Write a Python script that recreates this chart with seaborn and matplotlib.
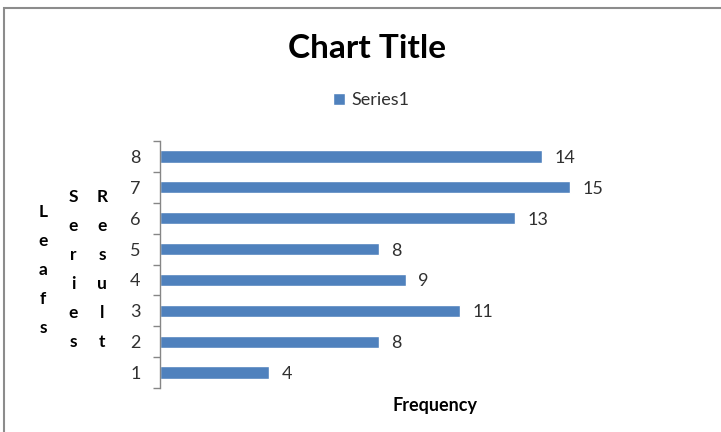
import matplotlib
matplotlib.use("Agg")
import matplotlib.pyplot as plt
import seaborn as sns
import pandas as pd
from matplotlib.patches import Rectangle

categories = ["1", "2", "3", "4", "5", "6", "7", "8"]
values = [4, 8, 11, 9, 8, 13, 15, 14]
title = "Chart Title"
series_name = "Series1"
x_label = "Frequency"
side_labels = ["Leafs", "Series", "Result"]

sns.set_theme(style="white")
plt.rcParams["font.family"] = ["Lato", "DejaVu Sans"]

df = pd.DataFrame({"cat": categories, "val": values})

W, H = 721, 432
fig = plt.figure(figsize=(W / 100, H / 100), dpi=100)
fig.patch.set_facecolor("white")

ax = fig.add_axes([160 / W, 1 - 388 / H, 437 / W, (388 - 141) / H])
sns.barplot(data=df, x="val", y="cat", order=categories[::-1], color="#4F81BD",
            saturation=1, width=0.4, orient="h", ax=ax, label=series_name)
ax.set_xlim(0, 16)
ax.set_ylim(len(categories) - 0.5, -0.5)

for s in ["top", "right", "bottom"]:
    ax.spines[s].set_visible(False)
ax.spines["left"].set_color("#868686")
ax.spines["left"].set_linewidth(1)
ax.set_xticks([])
ax.set_xlabel("")
ax.set_ylabel("")
ax.set_yticks(range(len(categories)), minor=False)
ax.set_yticks([i - 0.5 for i in range(len(categories) + 1)], minor=True)
ax.tick_params(axis="y", which="major", left=False, length=0, pad=14, labelsize=13,
               labelcolor="#303030")
ax.tick_params(axis="y", which="minor", left=True, length=5, width=1, color="#868686",
               direction="out")

for container in ax.containers:
    texts = ax.bar_label(container, labels=[str(v) for v in values[::-1]], padding=9,
                         fontsize=13, color="#303030")
    for t in texts:
        t.set_verticalalignment("center_baseline")

fig.text(367 / W, 1 - 48 / H, title, ha="center", va="center", fontsize=24,
         fontweight="bold", color="black")
fig.text(435 / W, 1 - 405 / H, x_label, ha="center", va="center", fontsize=13,
         fontweight="bold", color="black")

xs = [43, 73, 102]
tops = [212, 197, 197]
for lab, x, t in zip(side_labels, xs, tops):
    for i, ch in enumerate(lab):
        fig.text(x / W, 1 - (t + i * 29) / H, ch, ha="center", va="center",
                 fontsize=12.5, fontweight="bold", color="black")

ax.legend(loc="center", bbox_to_anchor=(371 / W, 1 - 100 / H), bbox_transform=fig.transFigure,
          frameon=False, handlelength=0.65, handleheight=0.65, handletextpad=0.35,
          fontsize=13, labelcolor="#303030")

fig.patches.append(Rectangle((4 / W, -0.1), 1.2, 1.1 - 8 / H, transform=fig.transFigure,
                             fill=False, edgecolor="#8c8c8c", linewidth=1.5, figure=fig))

fig.savefig("out.png", dpi=100, facecolor="white")
